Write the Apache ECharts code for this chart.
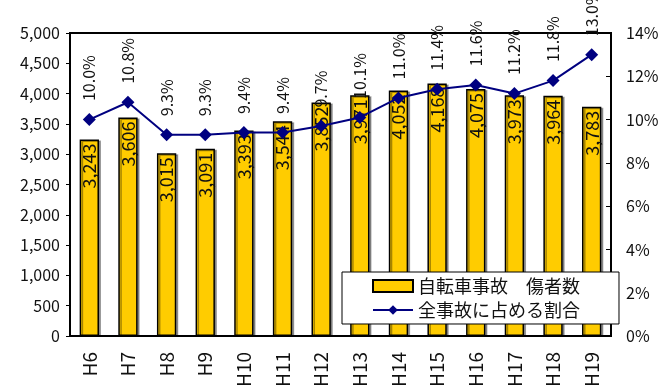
<!DOCTYPE html>
<html><head><meta charset="utf-8">
<script src="https://cdn.jsdelivr.net/npm/echarts@6/dist/echarts.min.js"></script>
<style>html,body{margin:0;padding:0;background:#fff}#c{width:669px;height:388px}</style>
</head><body><div id="c"></div>
<script>
const categories = ['H6','H7','H8','H9','H10','H11','H12','H13','H14','H15','H16','H17','H18','H19'];
const injured = [3243,3606,3015,3091,3393,3544,3852,3971,4052,4168,4075,3973,3964,3783];
const sharePct = [10.0,10.8,9.3,9.3,9.4,9.4,9.7,10.1,11.0,11.4,11.6,11.2,11.8,13.0];
const barName = '自転車事故　傷者数';
const lineName = '全事故に占める割合';

const FONT = 'Noto Sans CJK JP';
const chart = echarts.init(document.getElementById('c'), null, {renderer:'canvas'});
chart.setOption({
  animation:false,
  textStyle:{fontFamily:FONT,color:'#111'},
  grid:{left:70,right:58,top:33,bottom:52,show:true,borderColor:'#000',borderWidth:2,
    backgroundColor:'transparent',containLabel:false,outerBoundsMode:'none'},
  legend:{
    orient:'vertical', left:342, top:272,
    backgroundColor:'#fff', borderColor:'#000', borderWidth:1,
    padding:[5,39,5,30], itemGap:6, itemWidth:40, itemHeight:12,
    textStyle:{fontFamily:FONT,fontSize:18,color:'#111'},
    data:[{name:barName,icon:'rect'},{name:lineName}]
  },
  xAxis:{
    type:'category', data:categories,
    axisLine:{lineStyle:{color:'#000',width:2}},
    axisTick:{inside:true,length:5,lineStyle:{color:'#000'}},
    axisLabel:{rotate:90,fontSize:19,color:'#111',margin:16,fontFamily:FONT}
  },
  yAxis:[{
    type:'value', min:0, max:5000, interval:500,
    splitLine:{show:false},
    axisLine:{show:true,lineStyle:{color:'#000',width:2}},
    axisTick:{show:true,length:4,lineStyle:{color:'#000'}},
    axisLabel:{fontSize:16,color:'#111',margin:10,fontFamily:FONT,
      formatter:v=>v.toLocaleString('en-US')}
  },{
    type:'value', min:0, max:14, interval:2,
    splitLine:{show:false},
    axisLine:{show:true,lineStyle:{color:'#000',width:2}},
    axisTick:{show:true,inside:true,length:5,lineStyle:{color:'#000'}},
    axisLabel:{fontSize:16,color:'#111',margin:15,fontFamily:FONT,formatter:v=>v+'%'}
  }],
  series:[{
    name:barName, type:'bar', data:injured, barWidth:'50%', yAxisIndex:0,
    itemStyle:{color:'#FFCC00',borderColor:'#000',borderWidth:1.5,
      shadowColor:'rgba(0,0,0,0.35)',shadowOffsetX:2,shadowOffsetY:1,shadowBlur:0},
    label:{show:true,position:'insideTop',rotate:90,align:'right',verticalAlign:'middle',
      distance:4,fontSize:18,color:'#111',fontFamily:FONT,
      formatter:p=>p.value.toLocaleString('en-US')}
  },{
    name:lineName, type:'line', data:sharePct, yAxisIndex:1,
    symbol:'diamond', symbolSize:13,
    lineStyle:{color:'#000080',width:2},
    itemStyle:{color:'#000080'},
    label:{show:true,position:'top',rotate:90,align:'left',verticalAlign:'middle',
      distance:12,fontSize:16,color:'#111',fontFamily:FONT,
      formatter:p=>p.value.toFixed(1)+'%'}
  }]
});
</script></body></html>
